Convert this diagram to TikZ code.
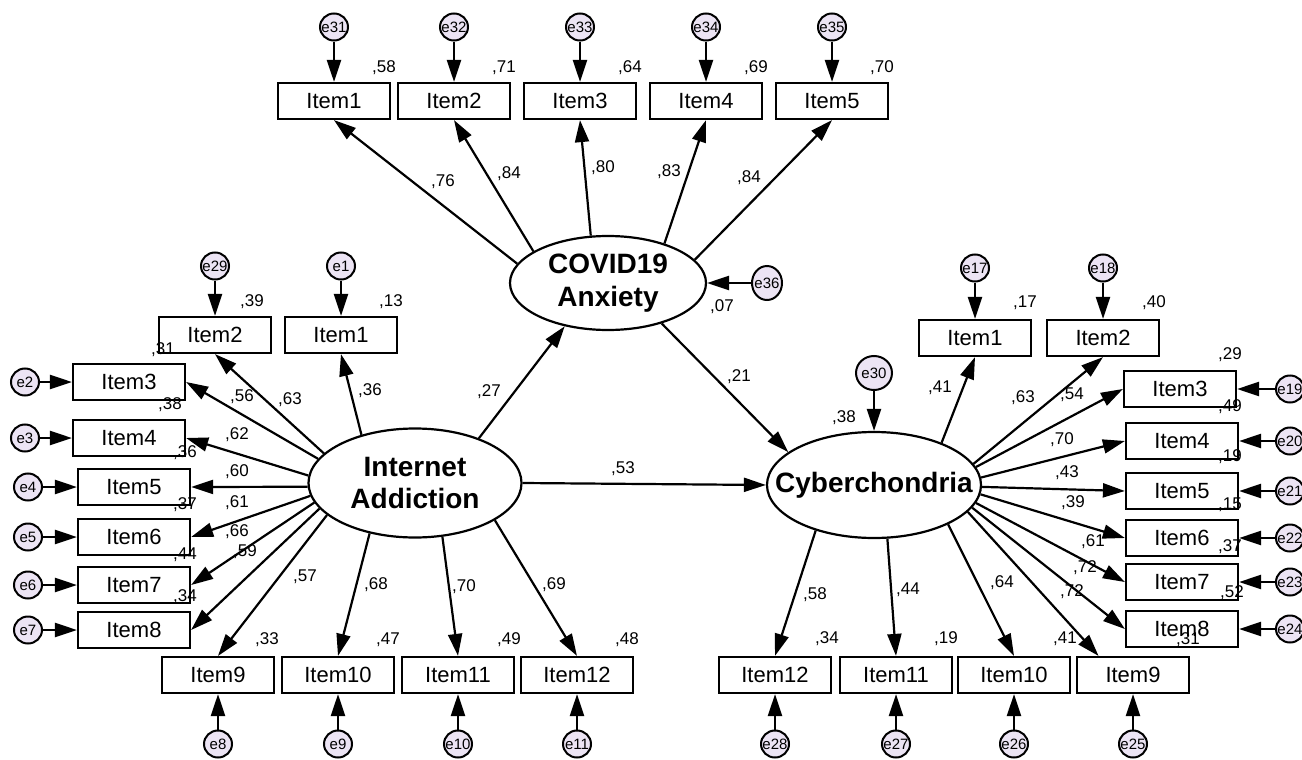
\documentclass[tikz,border=0pt]{standalone}
\usepackage{fontspec}
\setmainfont{Liberation Sans}
\usetikzlibrary{shapes.geometric,arrows.meta}
\definecolor{errfill}{RGB}{236,228,244}
\begin{document}
\begin{tikzpicture}[x=0.5pt,y=-0.5pt,
    item/.style={draw,line width=1.1pt,minimum width=56pt,minimum height=18pt,inner sep=0pt,font=\fontsize{11}{13}\selectfont},
    latent/.style={ellipse,draw,line width=1.1pt,inner xsep=-14pt,inner ysep=0pt,align=center,font=\fontsize{14}{16.5}\selectfont\bfseries},
    err/.style={ellipse,draw,line width=1pt,fill=errfill,inner sep=-2pt,minimum width=14pt,minimum height=13.5pt,font=\fontsize{7.5}{9}\selectfont},
    val/.style={inner sep=0pt,font=\fontsize{8.5}{10}\selectfont},
    lnk/.style={line width=1.1pt,-{Triangle[length=11pt,width=7pt]}}]
\useasboundingbox[fill=white] (0,0) rectangle (1302,760);
\clip (0,0) rectangle (1302,760);

\node[latent,minimum width=98pt,minimum height=47pt] (COV) at (608,283) {COVID19\\Anxiety};
\node[latent,minimum width=106.5pt,minimum height=54.5pt] (IA) at (415,483) {Internet\\Addiction};
\node[latent,minimum width=107pt,minimum height=53pt] (CYB) at (874,485) {Cyberchondria};

\node[item] (ca1) at (334,101) {Item1};
\node[item] (ca2) at (454,101) {Item2};
\node[item] (ca3) at (580,101) {Item3};
\node[item] (ca4) at (706,101) {Item4};
\node[item] (ca5) at (832,101) {Item5};
\node[err] (e31) at (334,27) {e31};
\node[err] (e32) at (454,27) {e32};
\node[err] (e33) at (580,27) {e33};
\node[err] (e34) at (706,27) {e34};
\node[err] (e35) at (832,27) {e35};
\node[err,minimum width=15pt,minimum height=17pt] (e36) at (767,283) {e36};

\node[item] (ia1) at (341,335) {Item1};
\node[item] (ia2) at (215,335) {Item2};
\node[item] (ia3) at (129,382) {Item3};
\node[item] (ia4) at (129,438) {Item4};
\node[item] (ia5) at (134,487) {Item5};
\node[item] (ia6) at (134,537) {Item6};
\node[item] (ia7) at (134,585) {Item7};
\node[item] (ia8) at (134,630) {Item8};
\node[item] (ia9) at (218,675) {Item9};
\node[item] (ia10) at (338,675) {Item10};
\node[item] (ia11) at (458,675) {Item11};
\node[item] (ia12) at (577,675) {Item12};
\node[err] (e1) at (341,266) {e1};
\node[err] (e29) at (215,266) {e29};
\node[err] (e2) at (25,382) {e2};
\node[err] (e3) at (25,438) {e3};
\node[err] (e4) at (28,487) {e4};
\node[err] (e5) at (28,537) {e5};
\node[err] (e6) at (28,585) {e6};
\node[err] (e7) at (28,630) {e7};
\node[err] (e8) at (218,744) {e8};
\node[err] (e9) at (338,744) {e9};
\node[err] (e10) at (458,744) {e10};
\node[err] (e11) at (577,744) {e11};

\node[item] (cy1) at (975,338) {Item1};
\node[item] (cy2) at (1103,338) {Item2};
\node[item] (cy3) at (1180,389) {Item3};
\node[item] (cy4) at (1182,441) {Item4};
\node[item] (cy5) at (1182,491) {Item5};
\node[item] (cy6) at (1182,538) {Item6};
\node[item] (cy7) at (1182,582) {Item7};
\node[item] (cy8) at (1182,629) {Item8};
\node[item] (cy9) at (1133,675) {Item9};
\node[item] (cy10) at (1014,675) {Item10};
\node[item] (cy11) at (896,675) {Item11};
\node[item] (cy12) at (775,675) {Item12};
\node[err] (e17) at (975,268) {e17};
\node[err] (e18) at (1103,268) {e18};
\node[err] (e19) at (1290,389) {e19};
\node[err] (e20) at (1290,441) {e20};
\node[err] (e21) at (1290,491) {e21};
\node[err] (e22) at (1290,538) {e22};
\node[err] (e23) at (1290,582) {e23};
\node[err] (e24) at (1290,629) {e24};
\node[err] (e25) at (1133,744) {e25};
\node[err] (e26) at (1014,744) {e26};
\node[err] (e27) at (896,744) {e27};
\node[err] (e28) at (775,744) {e28};
\node[err,minimum width=18pt,minimum height=17pt] (e30) at (874,373) {e30};

\draw[lnk] (COV.168) -- (ca1.south);
\draw[lnk] (COV.157) -- (ca2.south);
\draw[lnk] (COV.110) -- (ca3.south);
\draw[lnk] (COV.35) -- (ca4.south);
\draw[lnk] (COV.15) -- (ca5.south);
\draw[lnk] (e31) -- (ca1);
\draw[lnk] (e32) -- (ca2);
\draw[lnk] (e33) -- (ca3);
\draw[lnk] (e34) -- (ca4);
\draw[lnk] (e35) -- (ca5);
\draw[lnk] (e36) -- (COV);

\draw[lnk] (IA.138) -- (ia1.south);
\draw[lnk] (IA.162) -- (ia2.south);
\draw[lnk] (IA.166) -- (ia3.east);
\draw[lnk] (IA.176) -- (ia4.east);
\draw[lnk] (IA.182) -- (ia5.east);
\draw[lnk] (IA.187) -- (ia6.east);
\draw[lnk] (IA.191) -- (ia7.east);
\draw[lnk] (IA.195) -- (ia8.east);
\draw[lnk] (IA.200) -- (ia9.north);
\draw[lnk] (IA.228) -- (ia10.north);
\draw[lnk] (IA.297) -- (ia11.north);
\draw[lnk] (IA.335) -- (ia12.north);
\draw[lnk] (e1) -- (ia1);
\draw[lnk] (e29) -- (ia2);
\draw[lnk] (e2) -- (ia3);
\draw[lnk] (e3) -- (ia4);
\draw[lnk] (e4) -- (ia5);
\draw[lnk] (e5) -- (ia6);
\draw[lnk] (e6) -- (ia7);
\draw[lnk] (e7) -- (ia8);
\draw[lnk] (e8) -- (ia9);
\draw[lnk] (e9) -- (ia10);
\draw[lnk] (e10) -- (ia11);
\draw[lnk] (e11) -- (ia12);

\draw[lnk] (IA.35) -- (COV.225);
\draw[lnk] (IA.east) -- (CYB.west);
\draw[lnk] (COV.323) -- (CYB.159);

\draw[lnk] (CYB.32) -- (cy1.south);
\draw[lnk] (CYB.12) -- (cy2.south);
\draw[lnk] (CYB.10) -- (cy3.west);
\draw[lnk] (CYB.4) -- (cy4.west);
\draw[lnk] (CYB.359) -- (cy5.west);
\draw[lnk] (CYB.355) -- (cy6.west);
\draw[lnk] (CYB.350) -- (cy7.west);
\draw[lnk] (CYB.347) -- (cy8.west);
\draw[lnk] (CYB.344) -- (cy9.151);
\draw[lnk] (CYB.332) -- (cy10.north);
\draw[lnk] (CYB.284) -- (cy11.north);
\draw[lnk] (CYB.218) -- (cy12.north);
\draw[lnk] (e17) -- (cy1);
\draw[lnk] (e18) -- (cy2);
\draw[lnk] (e19) -- (cy3);
\draw[lnk] (e20) -- (cy4);
\draw[lnk] (e21) -- (cy5);
\draw[lnk] (e22) -- (cy6);
\draw[lnk] (e23) -- (cy7);
\draw[lnk] (e24) -- (cy8);
\draw[lnk] (e25) -- (cy9);
\draw[lnk] (e26) -- (cy10);
\draw[lnk] (e27) -- (cy11);
\draw[lnk] (e28) -- (cy12);
\draw[lnk] (e30) -- (CYB);

\node[val] (rca1) at (384,68) {,58};
\node[val] (rca2) at (504,68) {,71};
\node[val] (rca3) at (630,68) {,64};
\node[val] (rca4) at (756,68) {,69};
\node[val] (rca5) at (882,68) {,70};
\node[val] (lca1) at (443,182) {,76};
\node[val] (lca2) at (509,174) {,84};
\node[val] (lca3) at (603,168) {,80};
\node[val] (lca4) at (669,172) {,83};
\node[val] (lca5) at (749,178) {,84};
\node[val] (rcov) at (722,307) {,07};

\node[val] (ria1) at (391,302) {,13};
\node[val] (ria2) at (252,302) {,39};
\node[val] (ria3) at (163,350) {,31};
\node[val] (ria4) at (170,405) {,38};
\node[val] (ria5) at (185,453) {,36};
\node[val] (ria6) at (185,505) {,37};
\node[val] (ria7) at (185,555) {,44};
\node[val] (ria8) at (185,597) {,34};
\node[val] (ria9) at (267,640) {,33};
\node[val] (ria10) at (388,640) {,47};
\node[val] (ria11) at (509,640) {,49};
\node[val] (ria12) at (627,640) {,48};
\node[val] (lia1) at (370,391) {,36};
\node[val] (lia2) at (290,400) {,63};
\node[val] (lia3) at (242,397) {,56};
\node[val] (lia4) at (237,435) {,62};
\node[val] (lia5) at (237,472) {,60};
\node[val] (lia6) at (237,503) {,61};
\node[val] (lia7) at (237,532) {,66};
\node[val] (lia8) at (245,552) {,59};
\node[val] (lia9) at (305,577) {,57};
\node[val] (lia10) at (376,585) {,68};
\node[val] (lia11) at (464,587) {,70};
\node[val] (lia12) at (554,585) {,69};

\node[val] (lia) at (489,392) {,27};
\node[val] (liac) at (623,469) {,53};
\node[val] (lcov) at (739,377) {,21};

\node[val] (rcy1) at (1025,303) {,17};
\node[val] (rcy2) at (1154,303) {,40};
\node[val] (rcy3) at (1230,355) {,29};
\node[val] (rcy4) at (1230,407) {,49};
\node[val] (rcy5) at (1230,457) {,19};
\node[val] (rcy6) at (1230,505) {,15};
\node[val] (rcy7) at (1230,547) {,37};
\node[val] (rcy8) at (1232,593) {,52};
\node[val] (rcy9) at (1188,640) {,31};
\node[val] (rcy10) at (1065,639) {,41};
\node[val] (rcy11) at (946,639) {,19};
\node[val] (rcy12) at (827,639) {,34};
\node[val] (rcyb) at (844,418) {,38};
\node[val] (lcy1) at (940,388) {,41};
\node[val] (lcy2) at (1023,398) {,63};
\node[val] (lcy3) at (1072,395) {,54};
\node[val] (lcy4) at (1062,440) {,70};
\node[val] (lcy5) at (1067,473) {,43};
\node[val] (lcy6) at (1073,503) {,39};
\node[val] (lcy7) at (1093,542) {,61};
\node[val] (lcy8) at (1085,568) {,72};
\node[val] (lcy9) at (1072,592) {,72};
\node[val] (lcy10) at (1002,583) {,64};
\node[val] (lcy11) at (908,590) {,44};
\node[val] (lcy12) at (815,595) {,58};
\end{tikzpicture}
\end{document}
